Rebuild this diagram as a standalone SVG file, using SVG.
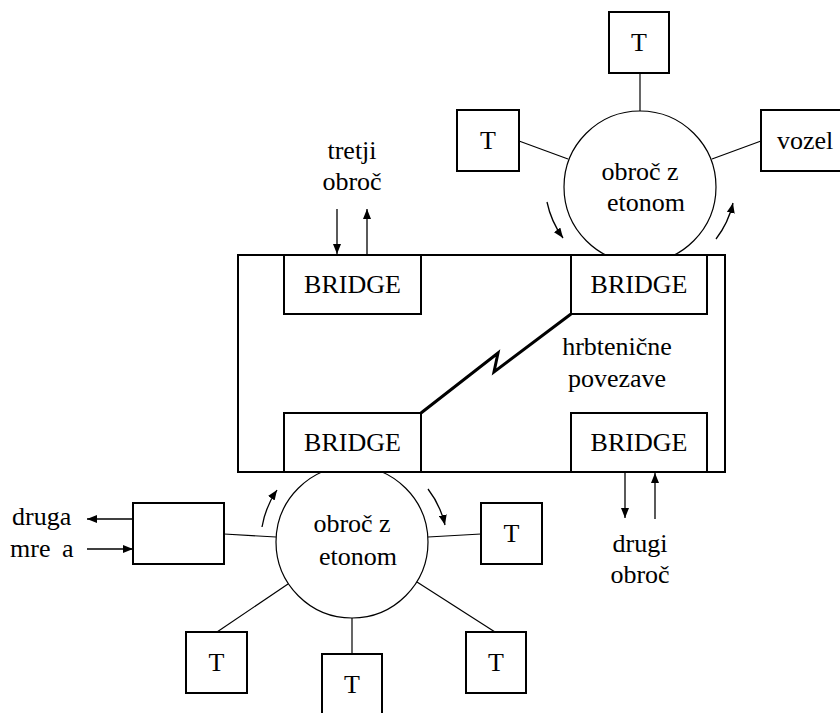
<svg xmlns="http://www.w3.org/2000/svg" width="840" height="713" viewBox="0 0 840 713">
  <style>
    text { font-family: 'Liberation Serif', 'DejaVu Serif', 'Times New Roman', serif; font-size: 26px; fill: #000; }
    .c { text-anchor: middle; }
    .box { fill: #fff; stroke: #000; stroke-width: 2; }
    .ring { fill: #fff; stroke: #000; stroke-width: 1.2; }
    .link { stroke: #000; stroke-width: 1.2; fill: none; }
    .arr { stroke: #000; stroke-width: 1.3; fill: none; marker-end: url(#head); }
  </style>
  <defs>
    <marker id="head" viewBox="0 0 10 8" refX="10" refY="4" markerWidth="10" markerHeight="8" markerUnits="userSpaceOnUse" orient="auto">
      <path d="M0,0 L10,4 L0,8 Z" fill="#000"/>
    </marker>
  </defs>

  <!-- links from ring stations to the rings -->
  <g id="connectors">
    <line class="link" x1="640" y1="73" x2="640" y2="111"/>
    <line class="link" x1="519" y1="141" x2="568" y2="159"/>
    <line class="link" x1="712" y1="159" x2="761" y2="141"/>
    <line class="link" x1="224" y1="534" x2="276" y2="537"/>
    <line class="link" x1="428" y1="537" x2="481" y2="534"/>
    <line class="link" x1="217" y1="632" x2="288" y2="584"/>
    <line class="link" x1="352" y1="618" x2="352" y2="654"/>
    <line class="link" x1="417" y1="582" x2="495" y2="632"/>
    <!-- token rotation arrows around the rings -->
    <path class="arr" d="M547,202 A93,93 0 0 0 563,238"/>
    <path class="arr" d="M716,239 A93,93 0 0 0 733,203"/>
    <path class="arr" d="M262,527 A92,92 0 0 1 277,490"/>
    <path class="arr" d="M428,489 A93,93 0 0 1 445,525"/>
    <!-- external ring links -->
    <line class="arr" x1="337" y1="209" x2="337" y2="254"/>
    <line class="arr" x1="367" y1="254" x2="367" y2="209"/>
    <line class="arr" x1="625" y1="473" x2="625" y2="518"/>
    <line class="arr" x1="655" y1="519" x2="655" y2="473"/>
    <line class="arr" x1="133" y1="519" x2="87" y2="519"/>
    <line class="arr" x1="87" y1="549" x2="133" y2="549"/>
    <!-- backbone link -->
    <polyline points="421,413 498,353 494,372 571,314" fill="none" stroke="#000" stroke-width="3" stroke-linejoin="miter" stroke-miterlimit="10"/>
  </g>

  <g id="ring-top">
    <circle class="ring" cx="640" cy="187" r="76"/>
    <text class="c" x="640" y="180">obroč z</text>
    <text class="c" x="646" y="211">etonom</text>
  </g>
  <g id="ring-bottom">
    <circle class="ring" cx="352" cy="542" r="76"/>
    <text class="c" x="352" y="532">obroč z</text>
    <text class="c" x="358" y="565">etonom</text>
  </g>

  <g id="backbone">
    <rect x="238" y="255" width="487" height="217" fill="none" stroke="#000" stroke-width="2"/>
  </g>

  <g id="bridge-tl">
    <rect class="box" x="284" y="255" width="137" height="59"/>
    <text class="c" x="352.5" y="293">BRIDGE</text>
  </g>
  <g id="bridge-tr">
    <rect class="box" x="571" y="255" width="136" height="59"/>
    <text class="c" x="639" y="293">BRIDGE</text>
  </g>
  <g id="bridge-bl">
    <rect class="box" x="284" y="413" width="137" height="59"/>
    <text class="c" x="352.5" y="451">BRIDGE</text>
  </g>
  <g id="bridge-br">
    <rect class="box" x="571" y="413" width="136" height="59"/>
    <text class="c" x="639" y="451">BRIDGE</text>
  </g>

  <g id="label-backbone">
    <text class="c" x="617" y="355">hrbtenične</text>
    <text class="c" x="617" y="387">povezave</text>
  </g>
  <g id="label-third">
    <text class="c" x="352" y="159">tretji</text>
    <text class="c" x="352" y="190">obroč</text>
  </g>
  <g id="label-second">
    <text class="c" x="640" y="552">drugi</text>
    <text class="c" x="640" y="583">obroč</text>
  </g>
  <g id="label-other">
    <text x="12" y="525">druga</text>
    <text x="10" y="557">mre <tspan dx="5">a</tspan></text>
  </g>

  <g id="t-top">
    <rect class="box" x="609" y="12" width="60" height="61"/>
    <text class="c" x="639" y="51">T</text>
  </g>
  <g id="t-left">
    <rect class="box" x="457" y="110" width="62" height="61"/>
    <text class="c" x="488" y="149">T</text>
  </g>
  <g id="vozel">
    <rect class="box" x="761" y="110" width="82" height="61"/>
    <text x="777" y="149">vozel</text>
  </g>
  <g id="gateway">
    <rect class="box" x="133" y="503" width="91" height="61"/>
  </g>
  <g id="t-right">
    <rect class="box" x="481" y="503" width="61" height="61"/>
    <text class="c" x="511.5" y="542">T</text>
  </g>
  <g id="t-bl">
    <rect class="box" x="186" y="632" width="61" height="61"/>
    <text class="c" x="216.5" y="671">T</text>
  </g>
  <g id="t-bm">
    <rect class="box" x="322" y="654" width="60" height="62"/>
    <text class="c" x="352" y="693">T</text>
  </g>
  <g id="t-br">
    <rect class="box" x="466" y="632" width="60" height="61"/>
    <text class="c" x="496" y="671">T</text>
  </g>
</svg>
